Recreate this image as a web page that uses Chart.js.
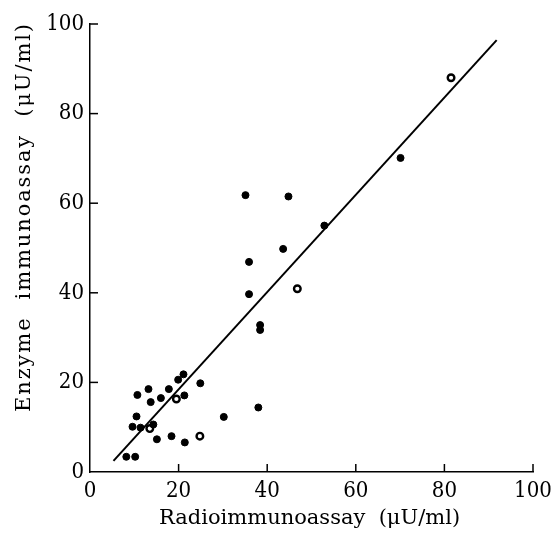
<!DOCTYPE html>
<html>
<head>
<meta charset="utf-8">
<script src="https://cdn.jsdelivr.net/npm/chart.js@4/dist/chart.umd.min.js"></script>
<style>
html,body{margin:0;padding:0;background:#fff;}
#wrap{width:551px;height:535px;}
</style>
</head>
<body>
<div id="wrap"><canvas id="c" width="551" height="535"></canvas></div>
<script>
// Radioimmunoassay (x) vs Enzyme immunoassay (y), µU/ml
const solidX = [35.9, 38.4, 38.4, 21.1, 19.9, 24.9, 13.2, 17.8, 10.7, 21.3, 16.0, 13.7, 10.5, 38.0, 30.2, 9.6, 11.4, 14.3, 15.1, 18.4, 21.4, 8.2, 10.2, 35.1, 44.8, 52.9, 43.6, 35.9, 70.1];
const solidY = [39.7, 32.8, 31.7, 21.8, 20.6, 19.8, 18.5, 18.5, 17.2, 17.1, 16.5, 15.6, 12.4, 14.4, 12.3, 10.1, 9.9, 10.6, 7.3, 8.0, 6.6, 3.4, 3.4, 61.8, 61.5, 55.0, 49.8, 46.9, 70.1];
const openX = [81.5, 46.8, 24.8, 13.5, 19.5];
const openY = [88.0, 40.9, 8.0, 9.7, 16.3];
const fitX = [5.3, 91.8];
const fitY = [2.5, 96.4];
const tickValues = [0, 20, 40, 60, 80, 100];
const xTitle = "Radioimmunoassay  (\u03bcU/ml)";
const yTitle = "Enzyme  immunoassay  (\u03bcU/ml)";

const toPts = (xs, ys) => xs.map((x, i) => ({x: x, y: ys[i]}));

const serif = '"DejaVu Serif", "Liberation Serif", serif';
const tickFont = '"DejaVu Serif Condensed", "DejaVu Serif", serif';

const decor = {
  id: 'decor',
  afterDraw(chart) {
    const ctx = chart.ctx;
    const xs = chart.scales.x, ys = chart.scales.y;
    const area = chart.chartArea;
    ctx.save();
    ctx.strokeStyle = '#000';
    ctx.lineWidth = 1.5;
    tickValues.forEach(v => {
      if (v === 0) return;
      const px = xs.getPixelForValue(v);
      ctx.beginPath(); ctx.moveTo(px, area.bottom); ctx.lineTo(px, area.bottom - 8); ctx.stroke();
      const py = ys.getPixelForValue(v);
      ctx.beginPath(); ctx.moveTo(area.left, py); ctx.lineTo(area.left + 8, py); ctx.stroke();
    });
    ctx.fillStyle = '#000';
    ctx.font = '21px ' + serif;
    ctx.textBaseline = 'middle';
    ctx.textAlign = 'left';
    function spaced(text, target) {
      ctx.letterSpacing = '0px';
      const w = ctx.measureText(text).width;
      const sp = Math.max(0, (target - w) / (text.length - 1));
      ctx.letterSpacing = sp + 'px';
    }
    spaced(xTitle, 298);
    ctx.fillText(xTitle, 159, 519);
    ctx.translate(25, 412);
    ctx.rotate(-Math.PI / 2);
    spaced(yTitle, 388);
    ctx.fillText(yTitle, 0, 0);
    ctx.restore();
  }
};

new Chart(document.getElementById('c'), {
  type: 'scatter',
  data: {
    datasets: [
      {
        label: 'fit',
        data: toPts(fitX, fitY),
        showLine: true,
        borderColor: '#000',
        borderWidth: 2,
        pointRadius: 0,
        fill: false
      },
      {
        label: 'solid',
        data: toPts(solidX, solidY),
        pointRadius: 3.5,
        pointBackgroundColor: '#000',
        pointBorderColor: '#000',
        pointBorderWidth: 1
      },
      {
        label: 'open',
        data: toPts(openX, openY),
        pointRadius: 3.3,
        pointBackgroundColor: '#fff',
        pointBorderColor: '#000',
        pointBorderWidth: 2.4
      }
    ]
  },
  options: {
    responsive: false,
    animation: false,
    layout: {padding: {top: 24, right: 18, left: 0, bottom: 0}},
    plugins: {legend: {display: false}, tooltip: {enabled: false}},
    scales: {
      x: {
        type: 'linear', min: 0, max: 100,
        afterFit(s) { s.height = 63; s.paddingRight = 0; s.paddingLeft = 0; },
        border: {display: true, color: '#000', width: 1.5},
        grid: {display: false, drawTicks: false},
        ticks: {stepSize: 20, padding: 6, color: '#000', font: {family: tickFont, size: 22}},
        title: {display: false}
      },
      y: {
        type: 'linear', min: 0, max: 100,
        afterFit(s) { s.width = 90; s.paddingTop = 0; s.paddingBottom = 0; },
        border: {display: true, color: '#000', width: 1.5},
        grid: {display: false, drawTicks: false},
        ticks: {stepSize: 20, padding: 6, color: '#000', font: {family: tickFont, size: 22}},
        title: {display: false}
      }
    }
  },
  plugins: [decor]
});
</script>
</body>
</html>
